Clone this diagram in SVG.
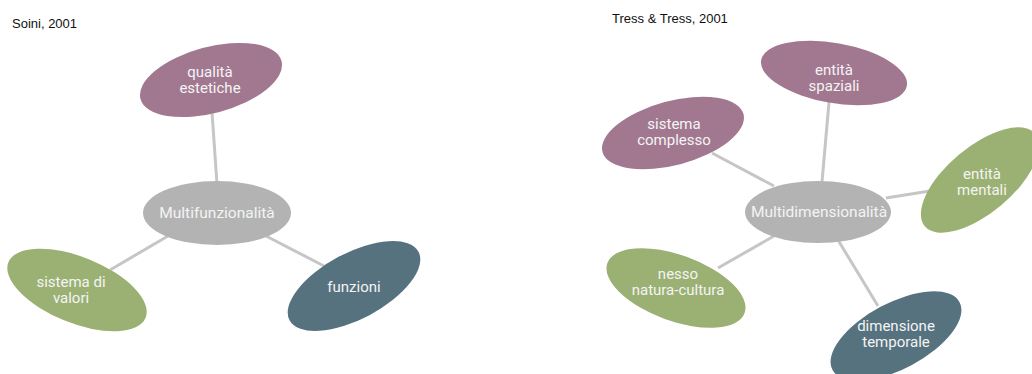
<svg xmlns="http://www.w3.org/2000/svg" width="1032" height="374" viewBox="0 0 1032 374">
  <style>
    .title { font-family: "Liberation Sans", Arial, sans-serif; font-size: 13px; fill: #111111; }
    .label { font-family: Roboto, "Liberation Sans", sans-serif; font-size: 15px; fill: #f4f4f4; text-anchor: middle; }
    .core-label { font-size: 15.5px; }
    .purple { fill: #a27891; }
    .green { fill: #9bb173; }
    .teal { fill: #56727f; }
    .core { fill: #b3b3b3; }
    .link { stroke: #c6c6c6; stroke-width: 3; fill: none; }
  </style>
  <rect width="1032" height="374" fill="#ffffff"/>

  <text class="title" x="12" y="28">Soini, 2001</text>
  <text class="title" x="612" y="23">Tress &amp; Tress, 2001</text>

  <!-- connectors -->
  <g id="connectors">
    <line class="link" x1="212" y1="112" x2="217" y2="184"/>
    <line class="link" x1="168" y1="236" x2="110" y2="270"/>
    <line class="link" x1="266" y1="236" x2="324" y2="266"/>
    <line class="link" x1="712" y1="153" x2="774" y2="186"/>
    <line class="link" x1="829" y1="102" x2="822" y2="182"/>
    <line class="link" x1="930" y1="191" x2="886" y2="198"/>
    <line class="link" x1="718" y1="268" x2="774" y2="236"/>
    <line class="link" x1="838" y1="240" x2="878" y2="306"/>
  </g>

  <!-- left: Multifunzionalità -->
  <g id="qualita-estetiche">
    <ellipse class="purple" cx="211" cy="80" rx="73" ry="33" transform="rotate(-15 211 80)"/>
    <text class="label" x="210" y="77">qualità</text>
    <text class="label" x="210" y="93">estetiche</text>
  </g>
  <g id="multifunzionalita">
    <ellipse class="core" cx="217" cy="213" rx="74" ry="32"/>
    <text class="label core-label" x="217" y="218">Multifunzionalità</text>
  </g>
  <g id="sistema-di-valori">
    <ellipse class="green" cx="77" cy="290" rx="74" ry="33" transform="rotate(22 77 290)"/>
    <text class="label" x="71" y="287">sistema di</text>
    <text class="label" x="71" y="303">valori</text>
  </g>
  <g id="funzioni">
    <ellipse class="teal" cx="354" cy="286" rx="73" ry="33" transform="rotate(-28 354 286)"/>
    <text class="label" x="354" y="292">funzioni</text>
  </g>

  <!-- right: Multidimensionalità -->
  <g id="entita-spaziali">
    <ellipse class="purple" cx="834" cy="73" rx="74" ry="30" transform="rotate(10 834 73)"/>
    <text class="label" x="834" y="75">entità</text>
    <text class="label" x="834" y="91">spaziali</text>
  </g>
  <g id="sistema-complesso">
    <ellipse class="purple" cx="673" cy="133" rx="73" ry="32" transform="rotate(-15 673 133)"/>
    <text class="label" x="674" y="129">sistema</text>
    <text class="label" x="674" y="145">complesso</text>
  </g>
  <g id="multidimensionalita">
    <ellipse class="core" cx="818" cy="212" rx="73" ry="31"/>
    <text class="label core-label" x="819" y="217">Multidimensionalità</text>
  </g>
  <g id="entita-mentali">
    <ellipse class="green" cx="980" cy="180" rx="72" ry="33" transform="rotate(-40 980 180)"/>
    <text class="label" x="982" y="179">entità</text>
    <text class="label" x="982" y="195">mentali</text>
  </g>
  <g id="nesso-natura-cultura">
    <ellipse class="green" cx="676" cy="288" rx="73" ry="33" transform="rotate(20 676 288)"/>
    <text class="label" x="678" y="279">nesso</text>
    <text class="label" x="678" y="295">natura-cultura</text>
  </g>
  <g id="dimensione-temporale">
    <ellipse class="teal" cx="896" cy="336" rx="72" ry="33" transform="rotate(-28 896 336)"/>
    <text class="label" x="896" y="331">dimensione</text>
    <text class="label" x="896" y="347">temporale</text>
  </g>
</svg>
